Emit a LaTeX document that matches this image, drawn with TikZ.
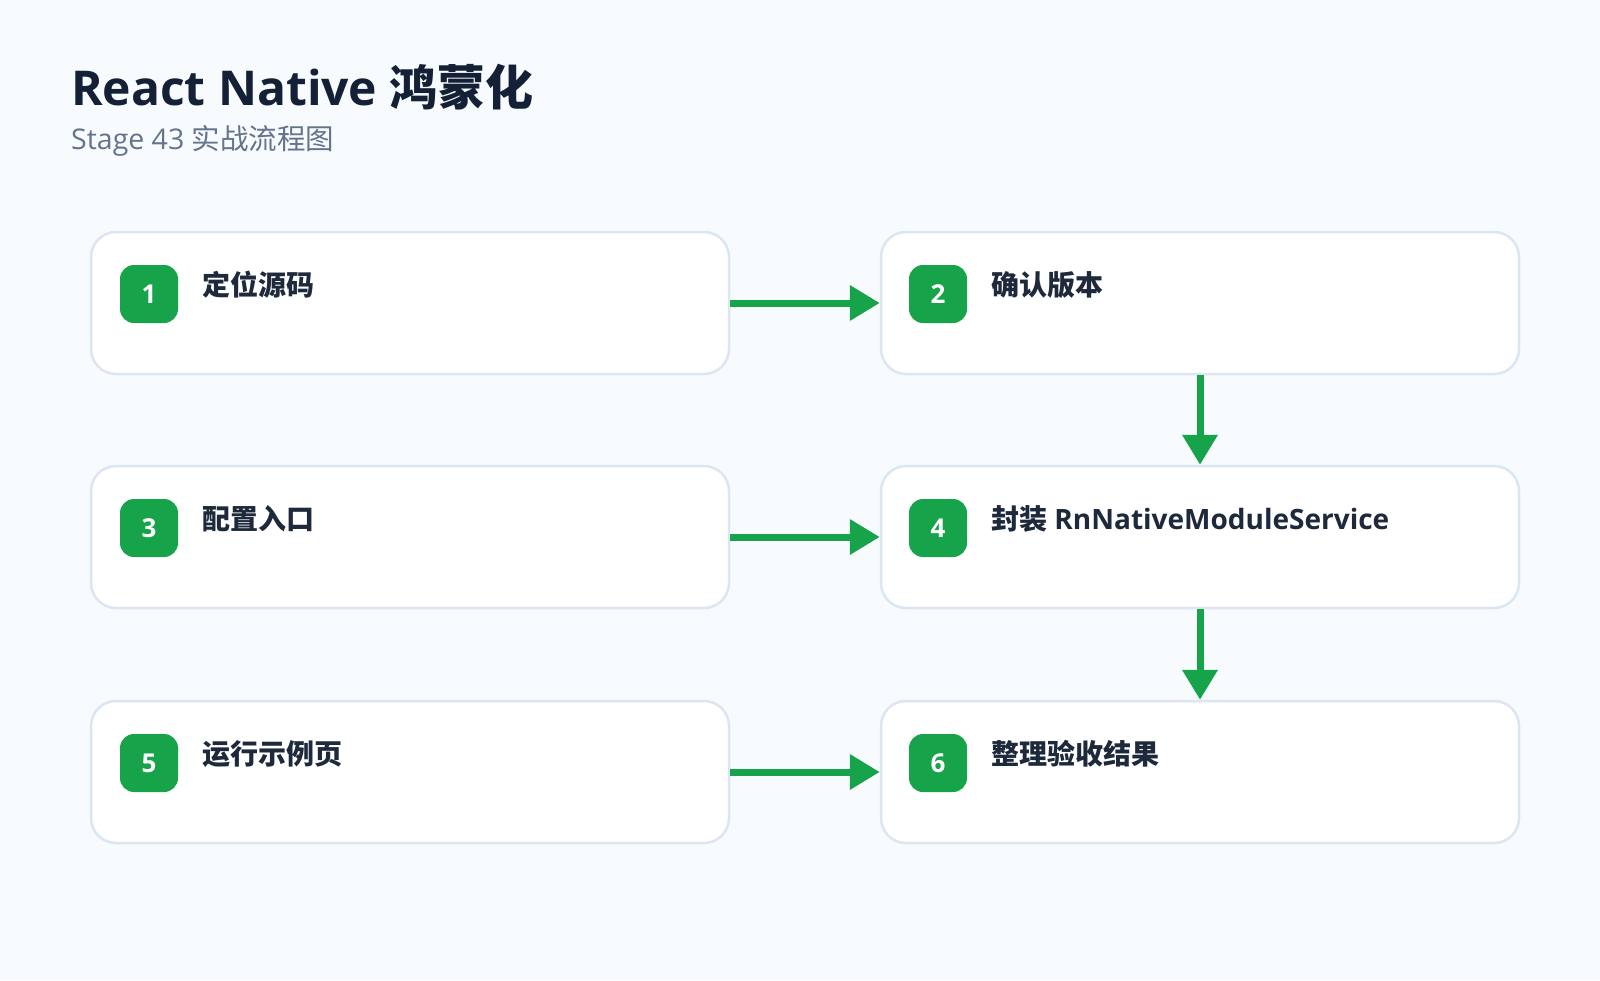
\documentclass[tikz,border=0pt]{standalone}
\usepackage{fontspec}
\setmainfont{Open Sans}
\newfontfamily\cjk{Noto Sans CJK SC}
\usetikzlibrary{arrows.meta}
\definecolor{pagebg}{HTML}{F7FBFE}
\definecolor{cardedge}{HTML}{DCE6F2}
\definecolor{okgreen}{HTML}{16A34A}
\definecolor{ink}{HTML}{1E293B}
\definecolor{titleink}{HTML}{132036}
\definecolor{subink}{HTML}{64748B}

\begin{document}
\begin{tikzpicture}[x=1pt,y=-1pt,
	card/.style={draw=cardedge,line width=2.5pt,fill=white,rounded corners=25pt,minimum width=638pt,minimum height=142pt,inner sep=0pt},
	badge/.style={fill=okgreen,rounded corners=14pt,minimum size=58pt,inner sep=0pt,text=white,font=\bfseries\fontsize{26}{26}\selectfont},
	steptext/.style={anchor=west,inner sep=0pt,text=ink,font=\bfseries\fontsize{28}{28}\selectfont},
	flow/.style={draw=okgreen,line width=7pt,-{Triangle[length=30pt,width=34pt]}}]
		\fill[pagebg] (0,0) rectangle (1600,980);
		
		\node[anchor=base west,inner sep=0pt,text=titleink,font=\bfseries\fontsize{48}{48}\selectfont] (title) at (71,105) {React Native {\cjk 鸿蒙化}};
		\node[anchor=base west,inner sep=0pt,text=subink,font=\fontsize{28.5}{28.5}\selectfont] (subtitle) at (71,149) {Stage 43 {\cjk 实战流程图}};
		
		\node[card] (C1) at (410,303) {};
		\node[card] (C2) at (1200,303) {};
		\node[card] (C3) at (410,537) {};
		\node[card] (C4) at (1200,537) {};
		\node[card] (C5) at (410,772) {};
		\node[card] (C6) at (1200,772) {};
		
		\node[badge] (B1) at (149,294) {1};
		\node[badge] (B2) at (938,294) {2};
		\node[badge] (B3) at (149,528) {3};
		\node[badge] (B4) at (938,528) {4};
		\node[badge] (B5) at (149,763) {5};
		\node[badge] (B6) at (938,763) {6};
		
		\node[steptext] (T1) at (202,285) {\cjk 定位源码};
		\node[steptext] (T2) at (991,285) {\cjk 确认版本};
		\node[steptext] (T3) at (202,519) {\cjk 配置入口};
		\node[steptext] (T4) at (991,519) {{\cjk 封装} RnNativeModuleService};
		\node[steptext] (T5) at (202,754) {\cjk 运行示例页};
		\node[steptext] (T6) at (991,754) {\cjk 整理验收结果};
		
		\draw[flow] (C1.east) -- (C2.west);
		\draw[flow] (C2.south) -- (C4.north);
		\draw[flow] (C3.east) -- (C4.west);
		\draw[flow] (C4.south) -- (C6.north);
		\draw[flow] (C5.east) -- (C6.west);
	\end{tikzpicture}
\end{document}
